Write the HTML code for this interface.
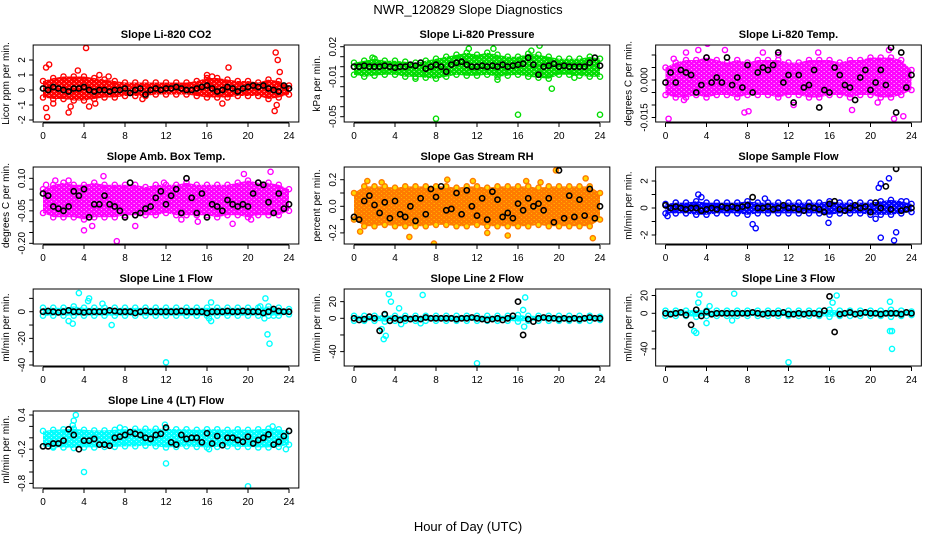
<!DOCTYPE html>
<html><head><meta charset="utf-8"><title>NWR_120829 Slope Diagnostics</title>
<style>
html,body{margin:0;padding:0;background:#fff;}
svg{display:block;font-family:"Liberation Sans",Arial,sans-serif;}
</style></head>
<body>
<svg id="chart" width="936" height="540" viewBox="0 0 936 540" xmlns="http://www.w3.org/2000/svg">
<rect x="0" y="0" width="936" height="540" fill="#fff"/>
<text x="468" y="14" text-anchor="middle" font-size="13">NWR_120829  Slope Diagnostics</text>
<text x="468" y="531" text-anchor="middle" font-size="13">Hour of Day (UTC)</text>
</svg>
<script>
// ---- shared categories ----
const hourTicks = [0, 4, 8, 12, 16, 20, 24];
const bandHours = [0,1,2,3,4,5,6,7,8,9,10,11,12,13,14,15,16,17,18,19,20,21,22,23,24];
const blackHours = [0,0.5,1,1.5,2,2.5,3,3.5,4,4.5,5,5.5,6,6.5,7,7.5,8,8.5,9,9.5,10,10.5,11,11.5,12,12.5,13,13.5,14,14.5,15,15.5,16,16.5,17,17.5,18,18.5,19,19.5,20,20.5,21,21.5,22,22.5,23,23.5,24];

// ---- Panel 1: CO2 ----
const co2Lo = [-0.5,-0.6,-0.6,-0.7,-0.7,-0.6,-0.5,-0.5,-0.4,-0.4,-0.4,-0.3,-0.3,-0.3,-0.3,-0.4,-0.5,-0.5,-0.5,-0.4,-0.4,-0.4,-0.6,-0.5,-0.3];
const co2Hi = [0.6,0.8,0.9,0.9,0.9,0.8,0.7,0.6,0.5,0.5,0.5,0.5,0.5,0.5,0.5,0.6,0.8,0.8,0.7,0.6,0.6,0.5,0.7,0.6,0.3];
const co2Pts = [[0.3,-1.2],[0.4,-1.8],[0.3,1.5],[0.6,1.7],[2.7,-1.1],[2.5,-1.5],[3.4,1.3],[4.2,2.8],[4.5,-1.1],[5.1,-0.9],[5.5,1.0],[6.4,0.9],[18.1,1.5],[17.5,-0.9],[22.7,2.5],[22.9,2.0],[22.6,-1.4],[22.8,-1.0],[23.1,1.2],[1.0,-0.9],[9.7,-0.6],[16.0,1.0],[16.5,0.9]];
const co2Black = [0.1,0.0,0.2,0.1,0.0,-0.1,0.1, 0.1,0.2,0.0,-0.1,0.0,0.0,-0.1, 0.0,0.0,0.1,-0.2,0.0,0.1,-0.3, 0.0,0.1,0.0,0.1,0.1,0.2,0.1, 0.0,0.0,0.1,0.2,0.3,0.1,-0.1, 0.0,0.2,0.1,-0.1,0.1,0.2,0.3, 0.2,0.3,0.1,0.0,-0.1,0.3,0.1];

// ---- Panel 2: Pressure ----
const presLo = [-0.008,-0.01,-0.009,-0.008,-0.008,-0.01,-0.01,-0.011,-0.012,-0.01,-0.008,-0.009,-0.009,-0.008,-0.01,-0.009,-0.008,-0.01,-0.011,-0.012,-0.008,-0.008,-0.009,-0.01,-0.01];
const presHi = [0.004,0.006,0.008,0.006,0.006,0.005,0.004,0.006,0.008,0.01,0.012,0.014,0.012,0.014,0.012,0.01,0.01,0.013,0.012,0.01,0.008,0.008,0.008,0.01,0.008];
const presPts = [[8.0,-0.052],[16.0,-0.048],[24.0,-0.048],[19.3,-0.022],[18.1,0.021],[11.2,0.018],[13.6,0.018],[17.3,0.016],[1.8,0.009],[6.0,-0.012],[14.0,-0.013],[21.5,-0.011]];
const presBlack = [0,0,0.001,0,0,0,0.001, 0,-0.001,0,0,0.002,0.001,0.004, -0.002,0,0.002,0,-0.005,0.002,0.004, 0.005,0.002,0,0,0.001,0,0.001, 0,0.002,0,0.001,0.002,0.003,0.009, 0.002,-0.008,0,0.001,0.003,0,0.001, 0,0,0,0,0.004,0.009,0.001];

// ---- Panel 3: Li-820 Temp ----
const tempLo = [-0.006,-0.007,-0.007,-0.006,-0.007,-0.006,-0.006,-0.007,-0.006,-0.006,-0.006,-0.007,-0.006,-0.006,-0.007,-0.007,-0.006,-0.006,-0.007,-0.006,-0.006,-0.007,-0.007,-0.006,-0.004];
const tempHi = [0.005,0.007,0.008,0.008,0.009,0.008,0.007,0.008,0.007,0.008,0.008,0.008,0.007,0.007,0.008,0.008,0.008,0.007,0.008,0.008,0.009,0.009,0.009,0.008,0.004];
const tempPts = [[0.3,-0.0155],[4.1,0.0145],[3.2,0.012],[2.0,0.011],[0.8,0.0085],[7.7,-0.013],[8.1,-0.0125],[18.2,-0.012],[22.3,-0.0155],[23.2,-0.0145],[11.0,0.010],[9.5,0.011],[21.8,0.012],[14.9,0.011],[1.8,-0.008],[12.5,-0.010],[20.7,-0.009],[5.8,0.012]];
const tempBlack = [-0.001,0.003,-0.001,0.004,0.003,0.002,-0.005, -0.002,0.009,-0.001,0.001,-0.001,0.009,-0.002, 0.001,-0.003,0.006,-0.005,0.003,0.005,0.004, 0.006,0.011,-0.001,0.002,-0.009,0.002,-0.003, -0.002,0.004,-0.011,-0.004,-0.005,0.005,0.002, -0.002,-0.003,-0.008,0.001,0.004,-0.004,-0.001, 0.004,-0.002,0.013,-0.013,0.011,-0.003,0.002];

// ---- Panel 4: Amb Box Temp ----
const ambLo = [-0.06,-0.08,-0.08,-0.08,-0.09,-0.08,-0.08,-0.08,-0.07,-0.07,-0.07,-0.07,-0.06,-0.07,-0.07,-0.07,-0.07,-0.08,-0.07,-0.07,-0.08,-0.07,-0.07,-0.07,-0.05];
const ambHi = [0.05,0.07,0.08,0.07,0.07,0.08,0.07,0.07,0.07,0.07,0.06,0.07,0.07,0.07,0.08,0.07,0.07,0.07,0.07,0.08,0.09,0.08,0.08,0.07,0.05];
const ambPts = [[7.2,-0.19],[4.0,-0.14],[9.0,-0.12],[4.8,-0.12],[5.9,0.11],[19.6,0.12],[22.2,0.13],[2.5,0.09],[18.5,-0.11],[20.3,-0.09],[15.1,-0.10],[11.8,0.08],[1.2,0.09],[13.5,-0.09],[0.3,0.07]];
const ambBlack = [0.03,0.02,-0.03,-0.04,-0.05,-0.03,0.04, 0.02,0.05,-0.08,-0.02,-0.02,0.02,-0.02, -0.03,-0.05,-0.08,0.08,-0.07,-0.06,-0.04, -0.03,0.01,0.04,-0.02,0.02,0.05,-0.06, 0.10,0.01,-0.06,0.03,-0.08,-0.02,-0.03, -0.05,0.00,-0.02,-0.03,-0.02,-0.03,0.03, 0.08,0.07,-0.01,-0.06,0.03,-0.04,-0.02];

// ---- Panel 5: Gas Stream RH ----
const rhLo = [-0.1,-0.15,-0.15,-0.14,-0.15,-0.15,-0.15,-0.15,-0.14,-0.14,-0.15,-0.15,-0.14,-0.15,-0.15,-0.15,-0.15,-0.15,-0.14,-0.15,-0.15,-0.15,-0.15,-0.15,-0.1];
const rhHi = [0.1,0.15,0.15,0.15,0.14,0.15,0.15,0.15,0.15,0.15,0.14,0.15,0.15,0.14,0.15,0.15,0.15,0.15,0.14,0.15,0.15,0.15,0.15,0.15,0.1];
const rhPts = [[19.7,0.27],[7.8,-0.28],[5.4,-0.23],[15.0,-0.22],[13.0,-0.2],[22.6,0.21],[23.3,-0.24],[1.3,0.19],[2.7,0.18],[9.1,0.2],[16.8,0.19],[18.2,0.18],[0.6,-0.19],[11.6,0.19]];
const rhBlack = [-0.08,-0.1,0.04,0.08,0.01,-0.05,0.03, -0.09,0.04,-0.06,-0.08,0.0,-0.11,0.06, -0.06,0.13,0.07,0.15,-0.03,-0.02,0.1, -0.06,0.12,0.0,-0.07,0.06,-0.1,0.11, 0.05,-0.08,-0.05,-0.09,0.02,-0.03,0.06, 0.0,0.02,-0.03,0.06,-0.12,0.27,-0.09, 0.08,-0.08,0.05,-0.07,0.13,-0.09,0.0];

// ---- Panel 6: Sample Flow ----
const sfLo = [-0.4,-0.4,-0.4,-0.5,-0.5,-0.4,-0.4,-0.4,-0.5,-0.4,-0.4,-0.4,-0.4,-0.4,-0.4,-0.4,-0.5,-0.4,-0.4,-0.4,-0.5,-0.5,-0.5,-0.4,-0.3];
const sfHi = [0.3,0.4,0.4,0.5,0.4,0.4,0.4,0.4,0.5,0.4,0.4,0.4,0.4,0.4,0.4,0.4,0.5,0.4,0.4,0.4,0.4,0.5,0.6,0.5,0.3];
const sfPts = [[20.8,1.5],[21.0,1.8],[21.8,2.2],[22.3,-2.4],[22.5,-1.8],[21.0,-2.2],[8.5,-1.2],[8.8,-1.5],[15.9,-1.1],[3.2,1.0],[3.5,0.8],[9.7,0.7],[20.5,-0.8],[23.5,0.5],[0.2,-0.6]];
const sfBlack = [0.2,0.0,0.1,0.0,-0.1,0.0,0.0, -0.2,-0.1,0.0,-0.1,0.1,0.0,0.1, 0.0,0.1,0.2,0.8,0.0,0.0,0.1, -0.1,0.0,0.2,0.0,0.0,-0.1,-0.2, 0.1,0.0,-0.1,-0.3,0.3,0.5,-0.1, -0.2,0.0,0.2,0.0,0.1,-0.3,0.4, 0.0,1.6,-0.1,2.9,-0.2,-0.1,0.0];

// ---- Panel 7: Line 1 Flow ----
const l1Lo = [-3,-3,-3,-3,-3,-3,-3,-3,-3,-3,-3,-3,-3,-3,-3,-3,-3,-3,-3,-3,-3,-3,-3,-3,-2];
const l1Hi = [3,3,3,4,3,3,3,3,3,3,3,3,3,3,3,3,3,3,3,3,3,3,4,3,2];
const l1Pts = [[3.5,14],[4.4,8],[4.5,10],[5.8,6],[2.5,-7],[2.9,-9],[6.7,-10],[12.0,-38],[16.2,-5],[16.4,-7],[16.4,7],[21.7,10],[21.9,-17],[22.1,-24],[21.6,-5],[21.2,4],[22.5,-3]];
const l1Black = [0,0.5,0,-0.5,0,1,0, 0,-0.5,0,0,0,0,1, 0.5,0,0,0,-1,0,0.5, 0,0,0,0,0,0,0.5, 0,0,0,0,-1,0,0, 0,0.5,0,0,0.5,0,0, 0,-1,0,2,0.5,0,0];

// ---- Panel 8: Line 2 Flow ----
const l2Lo = [-3,-3,-3,-4,-3,-3,-3,-3,-3,-3,-3,-3,-3,-3,-3,-3,-4,-3,-3,-3,-3,-3,-3,-3,-2];
const l2Hi = [3,3,3,4,3,3,3,3,3,3,3,3,3,3,3,3,4,3,3,3,3,3,3,3,2];
const l2Pts = [[3.4,29],[3.6,20],[2.7,-13],[2.9,-25],[3.1,-21],[4.6,-7],[6.7,28],[6.5,-6],[12.0,-54],[16.7,25],[16.5,10],[16.6,-10],[4.4,12]];
const l2Black = [0,-2,-1,2,0,-15,5, -3,0,-2,0,-1,0,-1, 1,0,0,0,0,0,-1, 0,0,1,0,-1,-2,-1, 0,-2,0,3,20,-20,-1, -4,0,1,0,0,-1,0, -1,0,-1,0,1,0,0];

// ---- Panel 9: Line 3 Flow ----
const l3Lo = [-3,-3,-3,-4,-3,-3,-3,-3,-3,-3,-3,-3,-3,-3,-3,-3,-4,-3,-3,-3,-3,-3,-4,-3,-2];
const l3Hi = [3,3,3,4,3,3,3,3,3,3,3,3,3,3,3,3,4,3,3,3,3,3,4,3,2];
const l3Pts = [[3.3,21],[3.2,12],[2.8,-20],[3.0,-22],[4.0,-11],[4.3,8],[6.7,22],[6.5,-8],[12.0,-55],[16.7,20],[16.3,12],[21.9,13],[21.9,-20],[22.1,-20],[22.1,-40]];
const l3Black = [0,-1,0,1,-2,-13,4, -3,2,-1,0,0,0,0, 0,0,0,1,0,-1,0, 0,0,1,-1,-1,0,-1, 0,0,-1,3,19,-21,-1, 0,1,-1,0,1,0,0, -1,0,0,0,-1,1,0];

// ---- Panel 10: Line 4 (LT) Flow ----
const l4Lo = [-0.15,-0.17,-0.17,-0.18,-0.17,-0.17,-0.16,-0.16,-0.15,-0.15,-0.14,-0.15,-0.17,-0.16,-0.15,-0.16,-0.17,-0.16,-0.15,-0.16,-0.16,-0.17,-0.17,-0.16,-0.12];
const l4Hi = [0.12,0.14,0.15,0.16,0.14,0.13,0.13,0.14,0.15,0.16,0.16,0.16,0.16,0.15,0.15,0.14,0.15,0.15,0.14,0.15,0.14,0.15,0.16,0.15,0.12];
const l4Pts = [[3.2,0.4],[3.0,0.3],[4.0,-0.6],[12.0,-0.45],[20.0,-0.85],[11.9,0.23],[22.4,0.2],[1.0,-0.15],[7.5,0.18],[16.2,-0.2],[23.7,-0.2],[2.9,0.22]];
const l4Black = [-0.15,-0.15,-0.1,-0.1,-0.05,0.15,0.05, -0.2,-0.05,-0.05,-0.02,-0.12,-0.12,-0.14, 0.0,0.02,0.05,0.1,0.07,0.05,0.0, -0.02,0.05,0.07,0.18,-0.08,-0.12,0.05, -0.02,0.0,0.0,-0.08,0.08,-0.1,0.03, -0.13,0.0,0.0,-0.04,-0.07,0.02,-0.1, -0.04,0.0,0.06,-0.12,-0.07,0.03,0.12];

// ---- axis tick values per panel ----
const co2Ticks = [-2,-1,0,1,2];          const co2Labels = ["-2","-1","0","1","2"];
const presTicks = [0.02,0.01,0,-0.01,-0.02,-0.03,-0.04,-0.05]; const presLabels = ["0.02","","","-0.01","","","","-0.05"];
const tempTicks = [0.01,0.005,0,-0.005,-0.01,-0.015]; const tempLabels = ["","","0.000","","","-0.015"];
const ambTicks = [0.1,0.05,0,-0.05,-0.1,-0.15,-0.2]; const ambLabels = ["0.10","","","-0.05","","","-0.20"];
const rhTicks = [0.2,0.1,0,-0.1,-0.2];   const rhLabels = ["0.2","","0.0","","-0.2"];
const sfTicks = [2,1,0,-1,-2];           const sfLabels = ["2","","0","","-2"];
const l1Ticks = [10,0,-10,-20,-30,-40];  const l1Labels = ["","0","","-20","","-40"];
const l2Ticks = [20,0,-20,-40];          const l2Labels = ["20","0","","-40"];
const l3Ticks = [20,0,-20,-40];          const l3Labels = ["20","0","","-40"];
const l4Ticks = [0.4,0.2,0,-0.2,-0.4,-0.6,-0.8]; const l4Labels = ["0.4","","","-0.2","","","-0.8"];

const NS = "http://www.w3.org/2000/svg";
const svg = document.getElementById("chart");
const colX0 = [43, 354, 665.5];
const rowTop = [45, 167, 289, 411];
const PXH = 10.25, BOXH = 77;

function el(tag, attrs, parent) {
  const e = document.createElementNS(NS, tag);
  for (const k in attrs) e.setAttribute(k, attrs[k]);
  (parent || svg).appendChild(e);
  return e;
}

const defs = el("defs", {});

const panels = [
  {key:"co2", title:"Slope Li-820 CO2", ytitle:"Licor ppm per min.", col:0,row:0, zero:90, k:15, color:"#ff0000", fill:"none", lo:co2Lo, hi:co2Hi, pts:co2Pts, blk:co2Black, ticks:co2Ticks, labels:co2Labels},
  {key:"pressure", title:"Slope Li-820 Pressure", ytitle:"kPa per min.", col:1,row:0, zero:66.7, k:1000, color:"#00dd00", fill:"none", lo:presLo, hi:presHi, pts:presPts, blk:presBlack, ticks:presTicks, labels:presLabels},
  {key:"li820-temp", title:"Slope Li-820 Temp.", ytitle:"degrees C per min.", col:2,row:0, zero:80, k:2500, color:"#ff00ff", fill:"none", lo:tempLo, hi:tempHi, pts:tempPts, blk:tempBlack, ticks:tempTicks, labels:tempLabels},
  {key:"amb-box-temp", title:"Slope Amb. Box Temp.", ytitle:"degrees C per min.", col:0,row:1, zero:200, k:216.7, color:"#ff00ff", fill:"none", lo:ambLo, hi:ambHi, pts:ambPts, blk:ambBlack, ticks:ambTicks, labels:ambLabels},
  {key:"gas-stream-rh", title:"Slope Gas Stream RH", ytitle:"percent per min.", col:1,row:1, zero:206.3, k:133, color:"#ff7a00", fill:"#ffd800", lo:rhLo, hi:rhHi, pts:rhPts, blk:rhBlack, ticks:rhTicks, labels:rhLabels},
  {key:"sample-flow", title:"Slope Sample Flow", ytitle:"ml/min per min.", col:2,row:1, zero:208, k:13.5, color:"#0000ff", fill:"none", lo:sfLo, hi:sfHi, pts:sfPts, blk:sfBlack, ticks:sfTicks, labels:sfLabels},
  {key:"line1-flow", title:"Slope Line 1 Flow", ytitle:"ml/min per min.", col:0,row:2, zero:311.7, k:1.333, color:"#00ffff", fill:"none", lo:l1Lo, hi:l1Hi, pts:l1Pts, blk:l1Black, ticks:l1Ticks, labels:l1Labels},
  {key:"line2-flow", title:"Slope Line 2 Flow", ytitle:"ml/min per min.", col:1,row:2, zero:318.3, k:0.833, color:"#00ffff", fill:"none", lo:l2Lo, hi:l2Hi, pts:l2Pts, blk:l2Black, ticks:l2Ticks, labels:l2Labels},
  {key:"line3-flow", title:"Slope Line 3 Flow", ytitle:"ml/min per min.", col:2,row:2, zero:313.3, k:0.89, color:"#00ffff", fill:"none", lo:l3Lo, hi:l3Hi, pts:l3Pts, blk:l3Black, ticks:l3Ticks, labels:l3Labels},
  {key:"line4-flow", title:"Slope Line 4 (LT) Flow", ytitle:"ml/min per min.", col:0,row:3, zero:437.8, k:57, color:"#00ffff", fill:"none", lo:l4Lo, hi:l4Hi, pts:l4Pts, blk:l4Black, ticks:l4Ticks, labels:l4Labels}
];

panels.forEach(p => {
  const pat = el("pattern", {id:"pat-" + p.key, width:5, height:4, patternUnits:"userSpaceOnUse"}, defs);
  const pf = p.fill === "none" ? "#fff" : p.fill;
  el("rect", {x:0, y:0, width:5, height:4, fill:pf}, pat);
  [[1.5,1.5],[4,3.5],[4,-0.5],[-1,3.5],[-1,-0.5],[6.5,1.5],[1.5,5.5]].forEach(c => {
    el("circle", {cx:c[0], cy:c[1], r:2.2, fill:"none", stroke:p.color, "stroke-width":1.3}, pat);
  });
});

panels.forEach(p => {
  const x0 = colX0[p.col], top = rowTop[p.row], bottom = top + BOXH;
  const left = x0 - 0.96 * PXH, right = x0 + 24.96 * PXH;
  const xs = h => x0 + h * PXH;
  const ys = v => p.zero - v * p.k;

  const g = el("g", {});
  
  

  const clipId = "clip-" + p.key;
  const cp = el("clipPath", {id: clipId}, g);
  el("rect", {x:left, y:top, width:right-left, height:BOXH}, cp);
  const plot = el("g", {"clip-path":"url(#" + clipId + ")"}, g);
  
  

  let d = "";
  bandHours.forEach((h,i) => { d += (i ? "L" : "M") + xs(h).toFixed(1) + "," + ys(p.hi[i]).toFixed(1); });
  for (let i = bandHours.length - 1; i >= 0; i--) d += "L" + xs(bandHours[i]).toFixed(1) + "," + ys(p.lo[i]).toFixed(1);
  const band = el("path", {d: d + "Z", fill: "url(#pat-" + p.key + ")", stroke: "none"}, plot);
  
  

  bandHours.forEach((h,i) => {
    [p.lo[i], p.hi[i]].forEach(v => {
      const c = el("circle", {cx: xs(h), cy: ys(v), r: 2.6, fill: p.fill, stroke: p.color, "stroke-width": 1.4}, plot);
      
      
    });
  });

  p.pts.forEach(pt => {
    const c = el("circle", {cx: xs(pt[0]), cy: ys(pt[1]), r: 2.6, fill: p.fill, stroke: p.color, "stroke-width": 1.4}, plot);
    
    
  });

  p.blk.forEach((v,i) => {
    const c = el("circle", {cx: xs(blackHours[i]), cy: ys(v), r: 2.6, fill: "none", stroke: "#000", "stroke-width": 1.6}, plot);
    
    
  });

  const box = el("rect", {x:left, y:top, width:right-left, height:BOXH, fill:"none", stroke:"#000", "stroke-width":1}, g);
  
  

  const t = el("text", {x:(left+right)/2, y: top - 7, "text-anchor":"middle", "font-size":11, "font-weight":"bold"}, g);
  t.textContent = p.title;
  
  

  const xa = el("g", {}, g);
  
  
  el("line", {x1:xs(0), x2:xs(24), y1:bottom+1, y2:bottom+1, stroke:"#000"}, xa);
  hourTicks.forEach(h => {
    el("line", {x1:xs(h), x2:xs(h), y1:bottom+1, y2:bottom+5, stroke:"#000"}, xa);
    const lt = el("text", {x:xs(h), y:bottom+17, "text-anchor":"middle", "font-size":10}, xa);
    lt.textContent = String(h);
    
    
  });

  const ya = el("g", {}, g);
  
  
  const yTop = Math.min(...p.ticks.map(ys)), yBot = Math.max(...p.ticks.map(ys));
  el("line", {x1:left, x2:left, y1:yTop, y2:yBot, stroke:"#000"}, ya);
  p.ticks.forEach((v,i) => {
    const yy = ys(v);
    el("line", {x1:left-4, x2:left, y1:yy, y2:yy, stroke:"#000"}, ya);
    if (p.labels[i]) {
      const lt = el("text", {x:left-8, y:yy, "text-anchor":"middle", "font-size":10, transform:"rotate(-90 " + (left-8) + " " + yy + ")"}, ya);
      lt.textContent = p.labels[i];
      
      
    }
  });
  const yt = el("text", {x:left-24, y:(top+bottom)/2, "text-anchor":"middle", "font-size":10, transform:"rotate(-90 " + (left-24) + " " + ((top+bottom)/2) + ")"}, g);
  yt.textContent = p.ytitle;
  
  
});
</script>
</body></html>
